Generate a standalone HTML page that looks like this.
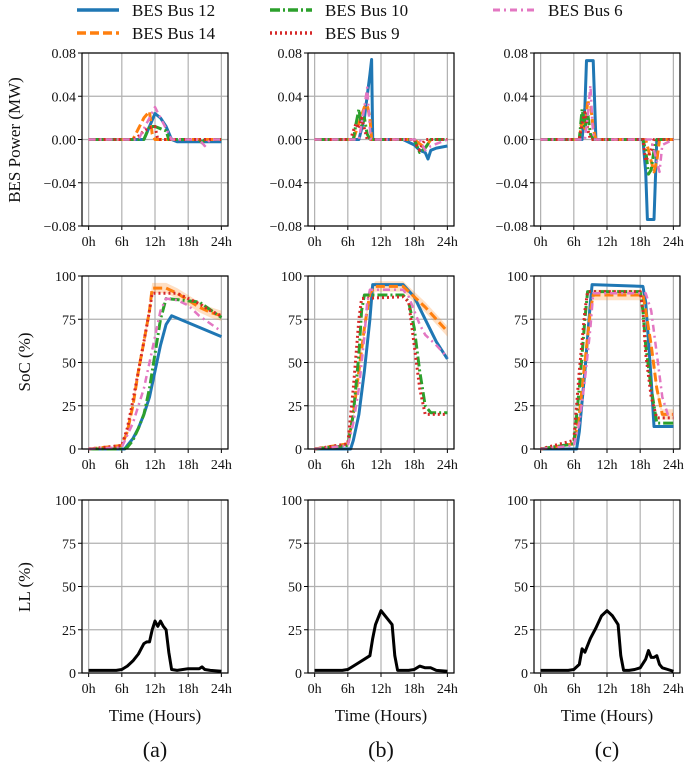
<!DOCTYPE html>
<html><head><meta charset="utf-8">
<style>
body{margin:0;background:#fff;}
svg text{font-family:"Liberation Serif",serif;fill:#111;}
</style></head>
<body>
<svg id="chart" width="685" height="768" viewBox="0 0 685 768" xmlns="http://www.w3.org/2000/svg"></svg>
<script>
// ---- data ----
const seriesNames = ["BES Bus 12","BES Bus 14","BES Bus 10","BES Bus 9","BES Bus 6"];
const xTicks = [0,6,12,18,24];
const xTickLabels = ["0h","6h","12h","18h","24h"];
const powerTicks = [-0.08,-0.04,0,0.04,0.08];
const powerTickLabels = ["\u22120.08","\u22120.04","0.00","0.04","0.08"];
const pctTicks = [0,25,50,75,100];
const pctTickLabels = ["0","25","50","75","100"];
const panelLetters = ["(a)","(b)","(c)"];

const powA = [
 [[0,10,11,12,13,14,15,16,24],[0,0,0.012,0.024,0.02,0.012,0,-0.002,-0.002]],
 [[0,8,9,10,11,11.5,12,24],[0,0,0.01,0.02,0.026,0.005,0,0]],
 [[0,10,11,12,13,14,14.5,15,20,20.5,21,24],[0,0,0.012,0.012,0.01,0.008,0,0,0,-0.003,0,0]],
 [[0,8,9,10,11,12,12.5,24],[0,0,0.003,0.008,0.011,0.012,0,0]],
 [[0,9,10,11,12,13,14,15,16,20,21,22,24],[0,0,0.01,0.02,0.03,0.02,0.01,0,0,0,-0.006,0,0]]
];
const powB = [
 [[0,8,9,10,10.3,10.5,16,18,19,20,20.5,21,22,24],[0,0,0.02,0.06,0.074,0,0,-0.005,-0.01,-0.012,-0.018,-0.01,-0.008,-0.006]],
 [[0,7,8,9,9.5,10,10.3,18,19,20,21,24],[0,0,0.015,0.03,0.032,0.02,0,0,-0.004,-0.008,0,0]],
 [[0,7,7.5,8,8.5,9,9.5,10,18,19,20,20.5,21,24],[0,0,0.015,0.028,0.012,0.02,0.005,0,0,-0.012,-0.008,-0.004,0,0]],
 [[0,6.5,7,7.5,8,8.5,9,9.5,10,18,18.5,19,19.5,20,24],[0,0,0.008,0.015,0.01,0.02,0.01,0,0,0,-0.006,-0.01,-0.004,0,0]],
 [[0,8,9,9.5,10,10.2,19,20,21,24],[0,0,0.03,0.048,0.01,0,0,-0.01,-0.006,0]]
];
const powC = [
 [[0,7.5,8,8.3,9.5,9.8,10,18.5,19,19.3,20.5,21,24],[0,0,0.03,0.073,0.073,0.03,0,0,-0.03,-0.074,-0.074,0,0]],
 [[0,7,7.5,8,8.5,9,9.5,10,19,19.5,20,20.5,21,21.5,24],[0,0,0.02,0.01,0.034,0.034,0.01,0,0,-0.01,-0.02,-0.03,-0.02,0,0]],
 [[0,7,7.5,8,8.5,9,9.5,18.5,19,19.5,20,20.5,21,24],[0,0,0.028,0.01,0.025,0.005,0,0,-0.01,-0.032,-0.028,-0.01,0,0]],
 [[0,7,7.5,8,8.5,9,18.5,19,19.5,20,20.5,24],[0,0,0.015,0.025,0.01,0,0,-0.02,-0.015,-0.01,0,0]],
 [[0,8,8.5,9,9.3,9.6,20,20.5,21,21.5,22,24],[0,0,0.02,0.05,0.02,0,0,-0.01,-0.02,-0.03,-0.005,0]]
];
const socA = [
 [[0,6.5,7,8,9,10,11,12,13,14,15,24],[0,0,2,6,12,20,30,45,60,72,77,65]],
 [[0,6,7,8,9,10,11,11.5,14,16,18,20,22,24],[0,2,10,25,45,62,80,93,93,90,86,82,79,77]],
 [[0,6.5,7,8,9,10,11,12,13,14,20,24],[0,0,1,5,12,20,35,55,75,87,85,76]],
 [[0,6,7,8,9,10,11,11.5,16,18,20,22,24],[0,2,12,28,45,62,80,90,90,87,84,80,77]],
 [[0,6,7,8,9,10,11,12,13,14,16,18,20,24],[0,1,8,15,25,35,50,65,80,87,86,83,77,68]]
];
const socB = [
 [[0,6.5,7,8,9,10,10.5,16,18,20,22,24],[0,0,5,20,45,75,95,95,88,75,62,52]],
 [[0,6,7,8,9,10,11,16,18,20,22,24],[0,3,20,45,70,90,94,94,88,82,75,68]],
 [[0,6,7,8,8.5,9,16,17,18,19,20,21,24],[0,2,20,55,80,89,89,85,70,45,25,21,21]],
 [[0,6,7,8,8.5,16,17,18,19,20,24],[0,3,35,75,87,88,85,60,35,20,20]],
 [[0,6,7,8,9,9.5,10,16,17,18,19,20,22,24],[0,2,15,35,65,85,92,92,88,80,72,66,60,53]]
];
const socC = [
 [[0,6.5,7,8,9,9.3,18.5,19,20,20.5,24],[0,0,10,45,85,95,94,85,40,13,13]],
 [[0,6,7,8,9,9.5,18.5,19,20,21,22,24],[0,3,20,50,80,89,89,80,60,35,20,20]],
 [[0,6,7,8,8.5,18,18.5,19,20,21,24],[0,3,35,75,91,91,80,60,35,15,15]],
 [[0,6,7,8,8.5,18,18.5,19,20,21,24],[0,5,45,80,91,91,80,55,30,18,18]],
 [[0,6,7,8,9,9.5,19,20,21,22,23,24],[0,2,15,40,70,90,90,80,55,30,20,20]]
];
const llTimesA = [0,5,6,7,8,9,10,10.5,11,11.5,12,12.5,13,13.5,14,14.5,15,16,18,20,20.5,21,22,24];
const llValsA = [1.5,1.5,2,4,7,11,17,18,18,25,30,27,30,27,25,12,2,1.5,2.5,2.5,3.5,2,1.5,1];
const llTimesB = [0,5,6,7,8,9,10,10.5,11,12,13,14,14.5,15,17,18,19,20,21,22,24];
const llValsB = [1.5,1.5,2,4,6,8,10,20,28,36,32,28,10,1.5,1.5,2,4,3,3,1.5,1];
const llTimesC = [0,5,6,7,7.5,8,9,10,11,12,13,14,14.5,15,16,17,18,19,19.5,20,20.5,21,21.5,22,23,24];
const llValsC = [1.5,1.5,2,5,14,12,20,26,33,36,33,28,10,1.5,1.5,2,3,8,13,9,9,10,5,3,2,1];

const colors = ["#1f77b4","#ff7f0e","#2ca02c","#d62728","#e377c2"];
const dashes = ["none","9,4","10,3,2,3","2,3","7,4,2,4"];
const widths = [3,3,3,3,2.5];
const NS="http://www.w3.org/2000/svg";
const svg=document.getElementById('chart');
function mk(tag,attrs,parent){const e=document.createElementNS(NS,tag);for(const k in attrs)e.setAttribute(k,attrs[k]);(parent||svg).appendChild(e);return e;}

const colLeft=[82,308,534], W=146, rowTop=[53,276,500], H=173;
function xs(c,t){return colLeft[c]+(t+1.2)/26.4*W;}
function ys(r,v,lo,hi){return rowTop[r]+H-(v-lo)/(hi-lo)*H;}

function panel(r,c,lo,hi,ticks,tickLabels){
  const g=mk('g',{});
  
  
  xTicks.forEach((t,i)=>{
    const x=xs(c,t);
    const gl=mk('line',{x1:x,x2:x,y1:rowTop[r],y2:rowTop[r]+H,stroke:'#b0b0b0','stroke-width':1.2},g);
    
    mk('line',{x1:x,x2:x,y1:rowTop[r]+H,y2:rowTop[r]+H+4,stroke:'#000'},g);
    const tx=mk('text',{x:x,y:rowTop[r]+H+20,'text-anchor':'middle','font-size':14},g);
    tx.textContent=xTickLabels[i];
    
  });
  ticks.forEach((v,i)=>{
    const y=ys(r,v,lo,hi);
    const gl=mk('line',{x1:colLeft[c],x2:colLeft[c]+W,y1:y,y2:y,stroke:'#b0b0b0','stroke-width':1.2},g);
    
    mk('line',{x1:colLeft[c]-4,x2:colLeft[c],y1:y,y2:y,stroke:'#000'},g);
    const tx=mk('text',{x:colLeft[c]-6,y:y+5,'text-anchor':'end','font-size':14},g);
    tx.textContent=tickLabels[i];
    
  });
  return g;
}
function frame(r,c){
  const f=mk('rect',{x:colLeft[c],y:rowTop[r],width:W,height:H,fill:'none',stroke:'#000','stroke-width':1.2});
  
}
function pathD(r,c,ts,vs,lo,hi){return ts.map((t,i)=>(i?'L':'M')+xs(c,t).toFixed(1)+','+ys(r,vs[i],lo,hi).toFixed(1)).join('');}
function drawSeries(r,c,data,lo,hi,g){
  data.forEach((s,k)=>{
    const p=mk('path',{d:pathD(r,c,s[0],s[1],lo,hi),fill:'none',stroke:colors[k],'stroke-width':widths[k],'stroke-dasharray':dashes[k],'stroke-linejoin':'round'},g);
    
    
  });
}
const powData=[powA,powB,powC], socData=[socA,socB,socC];
const llT=[llTimesA,llTimesB,llTimesC], llV=[llValsA,llValsB,llValsC];
for(let c=0;c<3;c++){
  let g=panel(0,c,-0.08,0.08,powerTicks,powerTickLabels);
  drawSeries(0,c,powData[c],-0.08,0.08,g); frame(0,c);
  g=panel(1,c,0,100,pctTicks,pctTickLabels);
  const o=socData[c][1];
  const idx=o[0].map((t,i)=>i).filter(i=>o[1][i]>=10);
  const up=idx.map(i=>[o[0][i],Math.min(100,o[1][i]+3)]), dn=idx.map(i=>[o[0][i],o[1][i]-3]).reverse();
  const band=mk('path',{d:up.concat(dn).map((p,i)=>(i?'L':'M')+xs(c,p[0]).toFixed(1)+','+ys(1,p[1],0,100).toFixed(1)).join('')+'Z',fill:colors[1],'fill-opacity':0.25,stroke:'none'},g);
  
  drawSeries(1,c,socData[c],0,100,g); frame(1,c);
  g=panel(2,c,0,100,pctTicks,pctTickLabels);
  const ll=mk('path',{d:pathD(2,c,llT[c],llV[c],0,100),fill:'none',stroke:'#000','stroke-width':3,'stroke-linejoin':'round'},g);
  
  frame(2,c);
  const xl=mk('text',{x:colLeft[c]+W/2,y:721,'text-anchor':'middle','font-size':17});
  xl.textContent='Time (Hours)';
  
  const pl=mk('text',{x:colLeft[c]+W/2,y:757,'text-anchor':'middle','font-size':22});
  pl.textContent=panelLetters[c];
  
}
[["BES Power (MW)",20,140],["SoC (%)",30,362],["LL (%)",30,587]].forEach(a=>{
  const t=mk('text',{x:a[1],y:a[2],'text-anchor':'middle','font-size':17,transform:'rotate(-90 '+a[1]+' '+a[2]+')'});
  t.textContent=a[0];
  
});
const legPos=[[77,10],[77,33],[270,10],[270,33],[493,10]];
const lg=mk('g',{});

seriesNames.forEach((n,k)=>{
  const [x,y]=legPos[k];
  const e=mk('g',{},lg);
  
  mk('line',{x1:x,x2:x+42,y1:y,y2:y,stroke:colors[k],'stroke-width':widths[k]+0.5,'stroke-dasharray':dashes[k]},e);
  const t=mk('text',{x:x+55,y:y+6,'font-size':17},e);
  t.textContent=n;
});
</script>
</body></html>
